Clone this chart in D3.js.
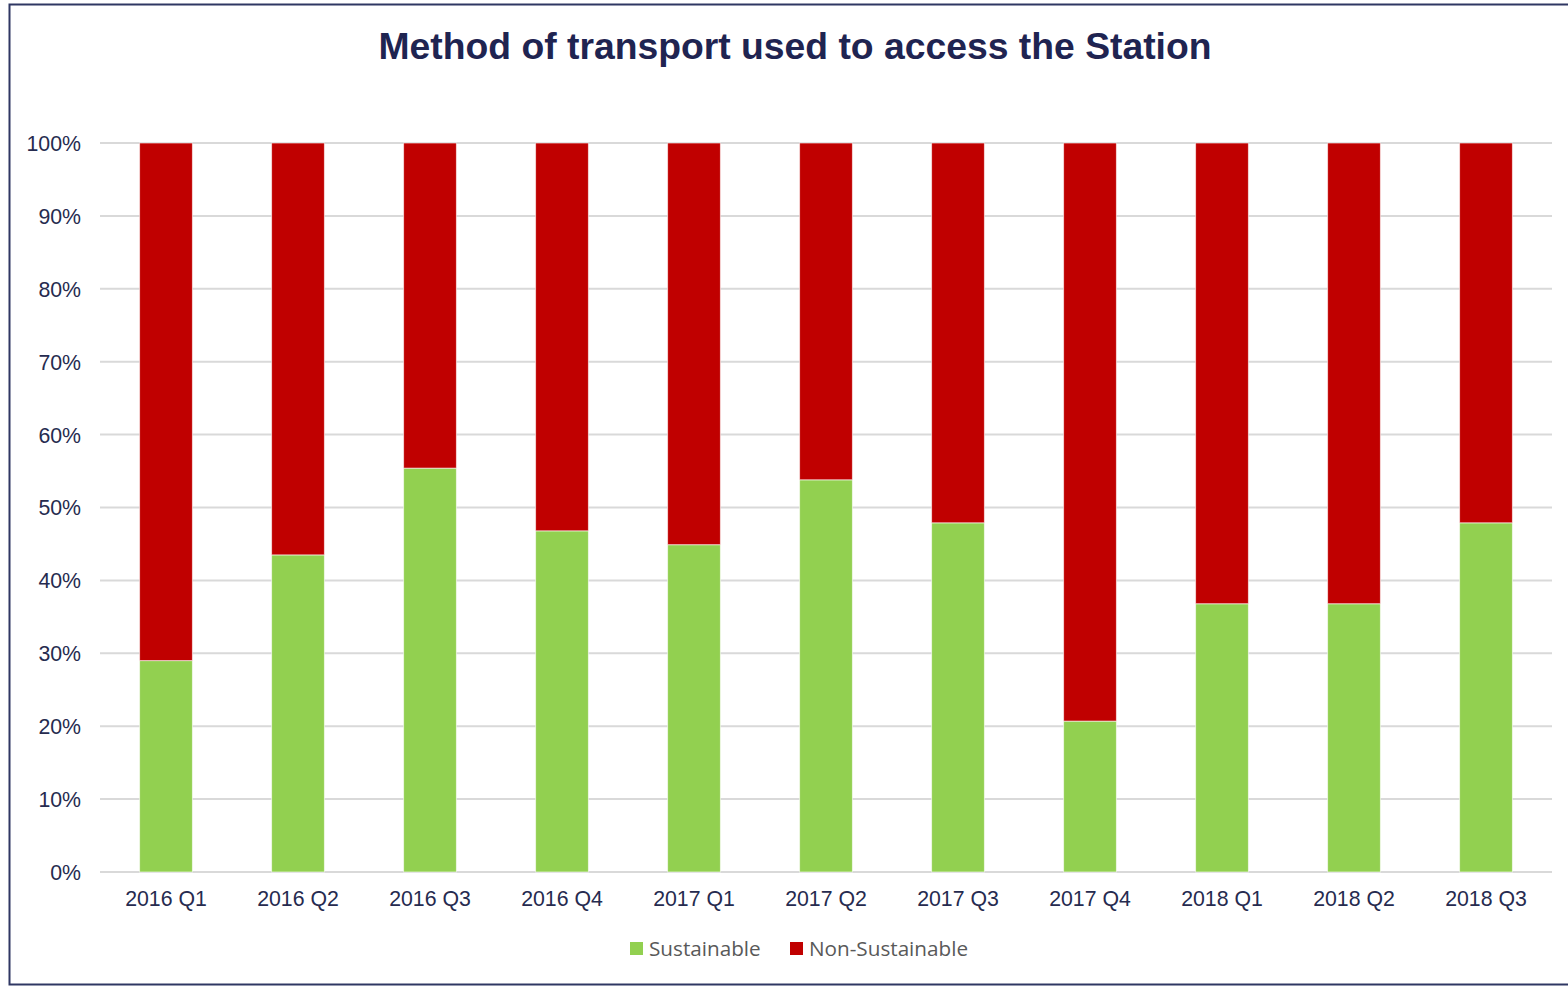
<!DOCTYPE html>
<html><head><meta charset="utf-8">
<script src="https://cdn.jsdelivr.net/npm/d3@7"></script>
<style>html,body{margin:0;padding:0;background:#fff;}svg{display:block;}</style>
</head><body>
<script>
const categories = ["2016 Q1","2016 Q2","2016 Q3","2016 Q4","2017 Q1","2017 Q2","2017 Q3","2017 Q4","2018 Q1","2018 Q2","2018 Q3"];
const sustainable = [29.0, 43.5, 55.4, 46.8, 44.9, 53.8, 47.9, 20.7, 36.8, 36.8, 47.9];
const nonSustainable = [71.0, 56.5, 44.6, 53.2, 55.1, 46.2, 52.1, 79.3, 63.2, 63.2, 52.1];
const seriesNames = ["Sustainable","Non-Sustainable"];
const seriesColors = ["#92d050","#c00000"];
const yTicks = [0,10,20,30,40,50,60,70,80,90,100];
const title = "Method of transport used to access the Station";

const ARIAL = "'Liberation Sans', Arial, sans-serif";
const W = 1568, H = 987;
const svg = d3.select("body").append("svg").attr("width", W).attr("height", H);

svg.append("rect").attr("x", 9.5).attr("y", 4.5).attr("width", 1600).attr("height", 980)
  .attr("fill", "#fff").attr("stroke", "#2f3763").attr("stroke-width", 2);

svg.append("text").attr("x", 795).attr("y", 59).attr("text-anchor", "middle")
  .style("font-family", ARIAL).attr("font-weight", "bold")
  .style("font-size", "37.3px").attr("fill", "#1f2451").text(title);

const x = d3.scaleBand().domain(categories).range([100, 1552]).paddingInner(0.6).paddingOuter(0.3);
const y = d3.scaleLinear().domain([0, 100]).range([872, 143]);

const g = svg.append("g");
g.selectAll("line.grid").data(yTicks).join("line").attr("class","grid")
  .attr("x1", 100).attr("x2", 1552).attr("y1", d => y(d)).attr("y2", d => y(d))
  .attr("stroke", "#d9d9d9").attr("stroke-width", 2);

const yAxis = d3.axisLeft(y).tickValues(yTicks).tickFormat(d => d + "%").tickSize(0).tickPadding(0);
const ya = g.append("g").attr("transform", "translate(81,0)").call(yAxis);
ya.select(".domain").remove();
ya.selectAll("text").style("font-family", ARIAL).style("font-size", "21.3px").attr("fill", "#262b4f").attr("dy", "0.35em");

const rows = categories.map((c, i) => ({cat: c, Sustainable: sustainable[i], "Non-Sustainable": nonSustainable[i]}));
const stack = d3.stack().keys(seriesNames)(rows);
g.selectAll("g.series").data(stack).join("g").attr("class","series")
  .attr("fill", (d, i) => seriesColors[i])
  .selectAll("rect").data(d => d).join("rect")
  .attr("x", d => x(d.data.cat)).attr("width", x.bandwidth())
  .attr("y", d => y(d[1])).attr("height", d => y(d[0]) - y(d[1]))
  .attr("stroke", "#ffffff").attr("stroke-opacity", 0.6).attr("stroke-width", 1);

const xAxis = d3.axisBottom(x).tickSize(0).tickPadding(0);
const xa = g.append("g").attr("transform", "translate(0,872)").call(xAxis);
xa.select(".domain").remove();
xa.selectAll("text").style("font-family", ARIAL).style("font-size", "21.3px").attr("fill", "#262b4f").attr("dy", "1.58em");

const legendX = [630, 790];
const lg = svg.selectAll("g.leg").data(seriesNames).join("g").attr("class","leg")
  .attr("transform", (d, i) => `translate(${legendX[i]},942)`);
lg.append("rect").attr("width", 13).attr("height", 13).attr("fill", (d, i) => seriesColors[i]);
lg.append("text").attr("x", 19).attr("y", 14).style("font-family", "'Open Sans', sans-serif")
  .style("font-size", "20.7px").attr("fill", "#595959").text(d => d);
</script>
</body></html>
